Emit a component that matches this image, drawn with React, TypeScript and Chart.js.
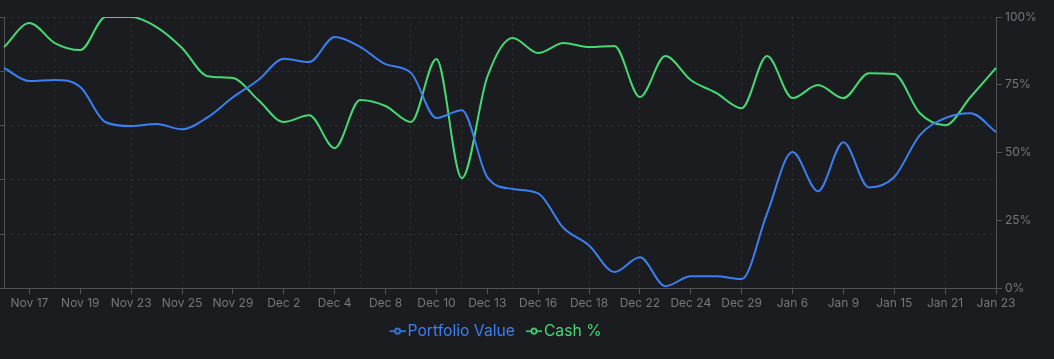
import React, { useEffect, useRef } from 'react';
import { Chart, registerables } from 'chart.js';

Chart.register(...registerables);

const categories = [
  'Nov 16', 'Nov 17', 'Nov 18', 'Nov 19', 'Nov 21', 'Nov 23', 'Nov 24', 'Nov 25', 'Nov 27', 'Nov 29',
  'Dec 1', 'Dec 2', 'Dec 3', 'Dec 4', 'Dec 6', 'Dec 8', 'Dec 9', 'Dec 10', 'Dec 11', 'Dec 13',
  'Dec 15', 'Dec 16', 'Dec 17', 'Dec 18', 'Dec 20', 'Dec 22', 'Dec 23', 'Dec 24', 'Dec 27', 'Dec 29',
  'Jan 2', 'Jan 6', 'Jan 8', 'Jan 9', 'Jan 13', 'Jan 15', 'Jan 18', 'Jan 21', 'Jan 22', 'Jan 23',
];

const portfolioValue = [
  11030, 10910, 10920, 10855, 10530, 10495, 10515, 10465, 10575, 10760,
  10920, 11115, 11085, 11315, 11225, 11065, 10985, 10570, 10640, 10025,
  9915, 9875, 9555, 9395, 9150, 9285, 9020, 9110, 9110, 9085,
  9690, 10255, 9895, 10345, 9930, 10025, 10410, 10568, 10614, 10440,
];

const cashPct = [
  88.9, 97.8, 90.4, 87.8, 100, 100, 96.3, 88.6, 78.2, 77.5,
  69.4, 61.3, 63.8, 51.7, 69.4, 67.2, 61.3, 84.5, 40.6, 77.9,
  92.3, 86.7, 90.4, 88.9, 89.3, 70.5, 85.6, 76.8, 72.0, 66.4,
  85.6, 70.1, 74.9, 70.1, 79.3, 79.0, 64.6, 60.1, 70.5, 81.2,
];

const valueAxisMin = 9000;
const valueAxisMax = 11500;
const valueAxisStep = 500;
const cashTickStep = 25;

const BG = '#1b1c1f';
const GRID = 'rgba(255,255,255,0.075)';
const AXIS = '#505256';
const TICK_TEXT = '#74777c';
const BLUE = '#3b7ff2';
const GREEN = '#45d874';
const FONT = 'Inter, "Noto Sans", sans-serif';
const visibleGrid = new Set([2, 5, 7, 10, 12, 14, 16, 18, 20, 23, 25, 29, 31, 35, 37]);

function makeIcon(color: string): HTMLCanvasElement {
  const c = document.createElement('canvas');
  c.width = 23;
  c.height = 10;
  const g = c.getContext('2d')!;
  g.strokeStyle = color;
  g.lineWidth = 1.6;
  g.beginPath();
  g.moveTo(7, 5);
  g.lineTo(23, 5);
  g.stroke();
  g.beginPath();
  g.arc(15, 5, 2.6, 0, Math.PI * 2);
  g.fillStyle = BG;
  g.fill();
  g.stroke();
  return c;
}

export default function App() {
  const ref = useRef<HTMLCanvasElement | null>(null);

  useEffect(() => {
    if (!ref.current) return;
    const icons = [makeIcon(BLUE), makeIcon(GREEN)];
    const chart = new Chart(ref.current, {
      type: 'line',
      data: {
        labels: categories,
        datasets: [
          {
            label: 'Portfolio Value',
            data: portfolioValue,
            borderColor: BLUE,
            backgroundColor: BLUE,
            borderWidth: 2,
            pointRadius: 0,
            cubicInterpolationMode: 'monotone',
            fill: false,
            yAxisID: 'y',
          },
          {
            label: 'Cash %',
            data: cashPct,
            borderColor: GREEN,
            backgroundColor: GREEN,
            borderWidth: 2,
            pointRadius: 0,
            cubicInterpolationMode: 'monotone',
            fill: false,
            yAxisID: 'y1',
          },
        ],
      },
      options: {
        responsive: false,
        animation: false,
        layout: { padding: { top: 17, bottom: 10, left: 0, right: 0 } },
        plugins: {
          tooltip: { enabled: false },
          legend: {
            position: 'bottom',
            labels: {
              usePointStyle: true,
              pointStyleWidth: 11.15,
              padding: 10,
              color: TICK_TEXT,
              font: { family: FONT, size: 15.7 },
              generateLabels: (ch: any) =>
                ch.data.datasets.map((ds: any, i: number) => ({
                  text: ds.label,
                  fontColor: ds.borderColor,
                  fillStyle: ds.borderColor,
                  strokeStyle: ds.borderColor,
                  lineWidth: 0,
                  pointStyle: icons[i],
                  hidden: !ch.isDatasetVisible(i),
                  datasetIndex: i,
                })),
            },
          },
        },
        scales: {
          x: {
            type: 'category',
            grid: {
              color: (c: any) => (visibleGrid.has(c.index) ? GRID : 'rgba(0,0,0,0)'),
              tickColor: (c: any) => (c.index % 2 === 1 ? AXIS : 'rgba(0,0,0,0)'),
              tickLength: 6,
            },
            border: { color: AXIS, dash: [3, 3] },
            ticks: {
              autoSkip: false,
              maxRotation: 0,
              minRotation: 0,
              padding: 2,
              color: TICK_TEXT,
              font: { family: FONT, size: 12 },
              callback: (_v: any, i: number) => (i % 2 === 1 ? categories[i] : ''),
            },
            afterFit: (s: any) => {
              s.height = 25;
            },
          },
          y: {
            position: 'left',
            min: valueAxisMin,
            max: valueAxisMax,
            ticks: { display: false, stepSize: valueAxisStep },
            grid: { color: GRID, tickColor: AXIS, tickLength: 6 },
            border: { color: AXIS, dash: [3, 3] },
            afterFit: (s: any) => {
              s.width = 68;
            },
          },
          y1: {
            position: 'right',
            min: 0,
            max: 100,
            ticks: {
              stepSize: cashTickStep,
              color: TICK_TEXT,
              padding: 3,
              font: { family: FONT, size: 12 },
              callback: (v: any) => `${v}%`,
            },
            grid: { drawOnChartArea: false, tickColor: AXIS, tickLength: 6 },
            border: { color: AXIS },
            afterFit: (s: any) => {
              s.width = 58;
            },
          },
        },
      },
    } as any);
    return () => chart.destroy();
  }, []);

  return (
    <div
      style={{
        position: 'fixed',
        left: -64,
        top: 0,
        width: 1118,
        height: 359,
        background: BG,
        overflow: 'hidden',
      }}
    >
      <canvas ref={ref} width={1118} height={359} style={{ display: 'block' }} />
    </div>
  );
}
